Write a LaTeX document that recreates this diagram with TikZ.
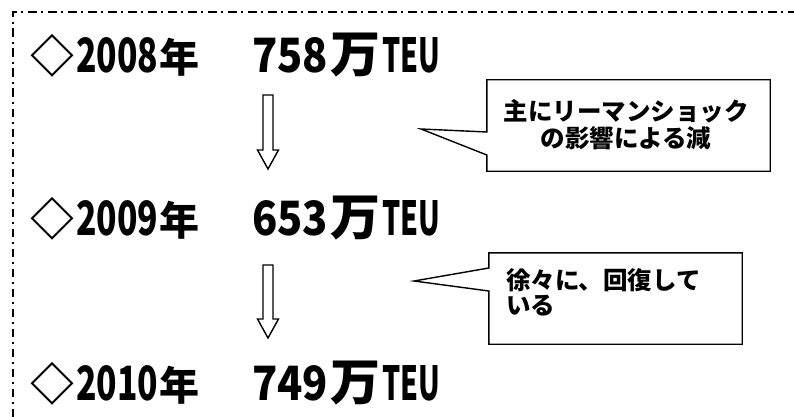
\documentclass[tikz,border=0pt]{standalone}
\usepackage{fontspec}
\usepackage{graphicx}
\usetikzlibrary{calc}
\newfontfamily\jp{Noto Sans CJK JP}
\newcommand\jpb{\jp\bfseries}
\newcommand\rowleft[1]{{\jpb\fontsize{44}{44}\selectfont ◇\kern2pt\resizebox{82pt}{35pt}{#1}\kern1pt\resizebox{40pt}{!}{年}}}
\newcommand\rowright[1]{{\jpb\fontsize{44}{44}\selectfont\resizebox{76pt}{35pt}{#1}\kern2pt\resizebox{50pt}{!}{万}\kern2pt\resizebox{58pt}{35pt}{TEU}}}
\tikzset{
  rowtxt/.style={anchor=base west, inner sep=0pt},
  arr/.style={draw=black, line width=1.4pt, fill=white, line join=miter},
  callout/.style={draw=black, line width=1.4pt, fill=white, line join=miter},
  calltxt/.style={inner sep=0pt, font=\jpb\fontsize{24.5}{27}\selectfont},
  border/.style={line width=2pt, dash pattern=on 8.5pt off 4.5pt on 2pt off 5pt}
}
\newcommand\harrow[2]{\draw[arr] ($(#1)+(-5,0)$) -- ($(#2)+(-5,-19)$) -- ($(#2)+(-10.5,-19)$) -- (#2) -- ($(#2)+(10.5,-19)$) -- ($(#2)+(5,-19)$) -- ($(#1)+(5,0)$) -- cycle;}
\begin{document}
\begin{tikzpicture}[x=1pt,y=-1pt]
\useasboundingbox (0,0) rectangle (794,417);
% border
\coordinate (bl) at (12.5,417);
\coordinate (tl) at (12.5,12.5);
\coordinate (tr) at (794,12.5);
\draw[border] (bl) -- (tl) -- (tr);
% rows
\node[rowtxt] (y1) at (30,73) {\rowleft{2008}};
\node[rowtxt] (v1) at (252,73) {\rowright{758}};
\node[rowtxt] (y2) at (30,235) {\rowleft{2009}};
\node[rowtxt] (v2) at (252,235) {\rowright{653}};
\node[rowtxt] (y3) at (30,400) {\rowleft{2010}};
\node[rowtxt] (v3) at (252,400) {\rowright{749}};
% arrows
\coordinate (a1s) at (268,95);
\coordinate (a1e) at (268,169);
\coordinate (a2s) at (268,265);
\coordinate (a2e) at (268,338);
\harrow{a1s}{a1e}
\harrow{a2s}{a2e}
% callout 1
\node[minimum width=283pt, minimum height=91pt, inner sep=0pt] (c1) at (628.5,125.5) {};
\coordinate (t1) at (421,129);
\draw[callout] (c1.north west) -- (c1.north east) -- (c1.south east) -- (c1.south west)
  -- ([yshift=-29.5pt]c1.west) -- (t1) -- ([yshift=-6.5pt]c1.west) -- cycle;
\node[calltxt, align=center] (c1t) at (626,125) {主にリーマンショック\\の影響による減};
% callout 2
\node[minimum width=253pt, minimum height=91pt, inner sep=0pt] (c2) at (615.5,298.5) {};
\coordinate (t2) at (414,281);
\draw[callout] (c2.north west) -- (c2.north east) -- (c2.south east) -- (c2.south west)
  -- ([yshift=7.5pt]c2.west) -- (t2) -- ([yshift=30.5pt]c2.west) -- cycle;
\node[calltxt, align=left, anchor=north west, font=\jpb\fontsize{24.5}{25}\selectfont] (c2t) at (506,268) {徐々に、回復して\\いる};
\end{tikzpicture}
\end{document}
